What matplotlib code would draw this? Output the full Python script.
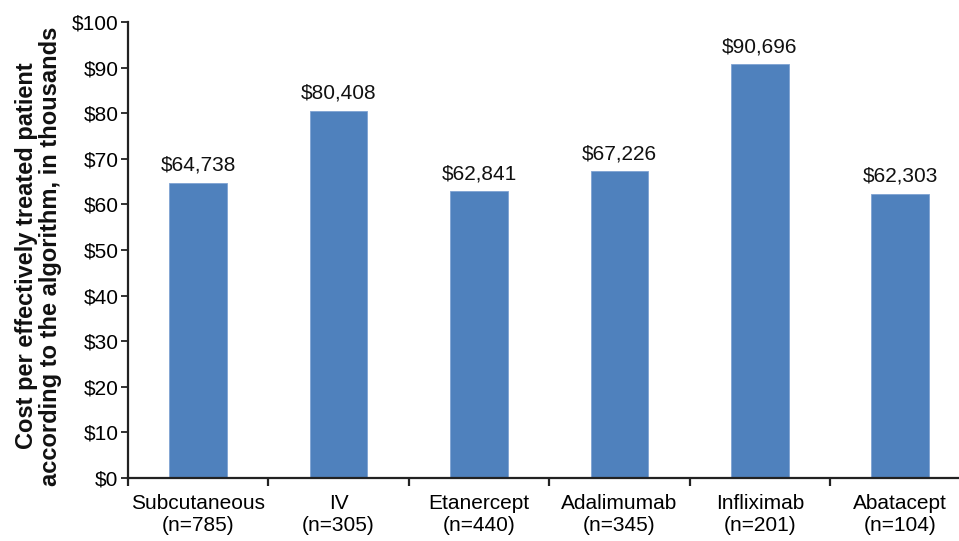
import matplotlib
matplotlib.use("Agg")
import matplotlib.pyplot as plt
import numpy as np

categories = ["Subcutaneous", "IV", "Etanercept", "Adalimumab", "Infliximab", "Abatacept"]
sample_sizes = ["(n=785)", "(n=305)", "(n=440)", "(n=345)", "(n=201)", "(n=104)"]
costs = [64.738, 80.408, 62.841, 67.226, 90.696, 62.303]  # thousands of $
cost_labels = ["$64,738", "$80,408", "$62,841", "$67,226", "$90,696", "$62,303"]
yticks = [0, 10, 20, 30, 40, 50, 60, 70, 80, 90, 100]
ytick_labels = ["$" + str(v) for v in yticks]

plt.rcParams['font.family'] = ['Liberation Sans', 'DejaVu Sans']

fig = plt.figure(figsize=(9.59, 5.41), dpi=100)
ax = fig.add_axes([0.1335, 0.1165, 0.8784, 0.843])

x = np.arange(len(categories))
bars = ax.bar(x, costs, width=0.41, color='#4F81BD', edgecolor='#7FA3D3', linewidth=0.6, zorder=2)

for xi, v, lab in zip(x, costs, cost_labels):
    ax.annotate(lab, (xi, v), xytext=(0, 6), textcoords='offset points',
                ha='center', va='bottom', fontsize=15, color='#111111')

ax.set_xlim(-0.5, len(categories) - 0.5)
ax.set_ylim(0, 100)
ax.set_yticks(yticks)
ax.set_yticklabels(ytick_labels, fontsize=15)

ax.set_xticks(np.arange(len(categories) + 1) - 0.5)
ax.set_xticklabels([])
ax.set_xticks(x, minor=True)
ax.set_xticklabels([c + "\n" + n for c, n in zip(categories, sample_sizes)], minor=True, fontsize=15)

ax.tick_params(axis='x', which='major', length=6, width=1.6, direction='out', color='#222222')
ax.tick_params(axis='x', which='minor', length=0, pad=11.5)
ax.tick_params(axis='y', length=5, width=1.3, direction='out', pad=2, color='#222222')

for s in ['top', 'right']:
    ax.spines[s].set_visible(False)
for s in ['left', 'bottom']:
    ax.spines[s].set_linewidth(1.6)
    ax.spines[s].set_color('#222222')

fig.text(0.0405, 0.527, "Cost per effectively treated patient\naccording to the algorithm, in thousands",
         rotation=90, ha='center', va='center', fontsize=17.0, fontweight='bold',
         linespacing=1.05, color='#111111')

fig.savefig("out.png", dpi=100)
